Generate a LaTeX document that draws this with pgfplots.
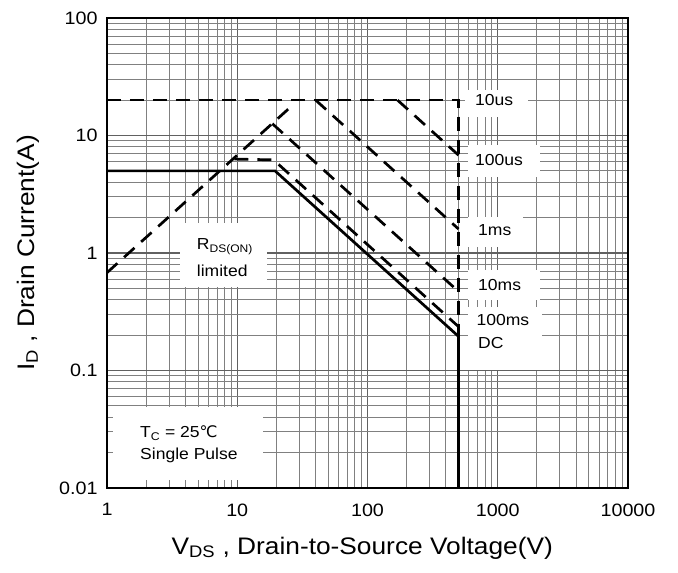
\documentclass[border=0pt]{standalone}
\usepackage{fontspec}
\setmainfont{Liberation Sans}[FakeStretch=1.1]
\newfontfamily\dejavu{DejaVu Sans}
\usepackage{pgfplots}
\pgfplotsset{compat=1.18}
\begin{document}
\begin{tikzpicture}
\begin{loglogaxis}[
  name=ax, scale only axis, width=521bp, height=470bp,
  xmin=1, xmax=10000, ymin=0.01, ymax=100,
  xtick={1,10,100,1000,10000}, xticklabels={1,10,100,1000,10000},
  ytick={0.01,0.1,1,10,100}, yticklabels={0.01,0.1,1,10,100},
  grid=both,
  major grid style={black!62, line width=1.1bp},
  minor grid style={black!50, line width=1.0bp},
  major tick length=0pt, minor tick length=0pt,
  axis line style={line width=2.8bp},
  ticklabel style={font=\fontsize{18}{20}\selectfont},
  xticklabel style={yshift=-12bp},
  yticklabel style={xshift=-6bp},
  xlabel={V\textsubscript{DS} , Drain-to-Source Voltage(V)},
  ylabel={I\textsubscript{D} , Drain Current(A)},
  label style={font=\fontsize{24}{26}\selectfont},
  xlabel style={at={(axis description cs:0.49,-0.1277)}, anchor=center},
  ylabel style={at={(axis description cs:-0.1516,0.5)}, anchor=center},
  every axis plot/.append style={line width=2.7bp, black},
]
% DC
\addplot[solid] coordinates {(1,5) (19.5,5) (500,0.195) (500,0.01)};
% 10us and 500 V limit
\addplot[dash pattern=on 14bp off 9bp] coordinates {(1,20) (500,20) (500,0.195)};
% 100us
\addplot[dash pattern=on 14bp off 9bp] coordinates {(170,20) (500,6.8)};
% 1ms
\addplot[dash pattern=on 14bp off 9bp] coordinates {(40,20) (500,1.6)};
% 10ms
\addplot[dash pattern=on 14bp off 9bp] coordinates {(18.6,12.6) (500,0.47)};
% 100ms
\addplot[dash pattern=on 14bp off 9bp] coordinates {(9.5,6.3) (19,6.2) (500,0.236)};
% RDS(on) limit
\addplot[dash pattern=on 14bp off 9bp] coordinates {(1,0.68) (26,17.7)};

% white label boxes
\node[fill=white, inner sep=0, minimum width=63bp, minimum height=27bp] at (rel axis cs:0.7476,0.818) {};
\node[fill=white, inner sep=0, minimum width=72bp, minimum height=32bp] at (rel axis cs:0.762,0.6957) {};
\node[fill=white, inner sep=0, minimum width=55bp, minimum height=30bp] at (rel axis cs:0.7457,0.5447) {};
\node[fill=white, inner sep=0, minimum width=72bp, minimum height=30bp] at (rel axis cs:0.762,0.4319) {};
\node[fill=white, inner sep=0, minimum width=74bp, minimum height=63bp] at (rel axis cs:0.7639,0.3181) {};
\node[fill=white, inner sep=0, minimum width=87bp, minimum height=64bp] at (rel axis cs:0.2236,0.4957) {};
\node[fill=white, inner sep=0, minimum width=150bp, minimum height=73bp] at (rel axis cs:0.1555,0.0947) {};

% label texts
\begin{scope}[every node/.style={anchor=west, inner sep=0, font=\fontsize{16}{18}\selectfont}]
\node at (rel axis cs:0.7063,0.8255) {10us};
\node at (rel axis cs:0.7063,0.698) {100us};
\node at (rel axis cs:0.712,0.549) {1ms};
\node at (rel axis cs:0.712,0.432) {10ms};
\node at (rel axis cs:0.709,0.357) {100ms};
\node at (rel axis cs:0.712,0.3085) {DC};
\node at (rel axis cs:0.1722,0.514) {R{\fontsize{11}{12}\selectfont\raisebox{-3bp}{DS(ON)}}};
\node at (rel axis cs:0.1722,0.462) {limited};
\node at (rel axis cs:0.0633,0.117) {T\textsubscript{C} = 25{\dejavu ℃}};
\node at (rel axis cs:0.0633,0.0702) {Single Pulse};
\end{scope}
\end{loglogaxis}
\pgfresetboundingbox
\path ([shift={(-107bp,-85bp)}]ax.south west) rectangle ([shift={(50bp,18bp)}]ax.north east);
\end{tikzpicture}
\end{document}
